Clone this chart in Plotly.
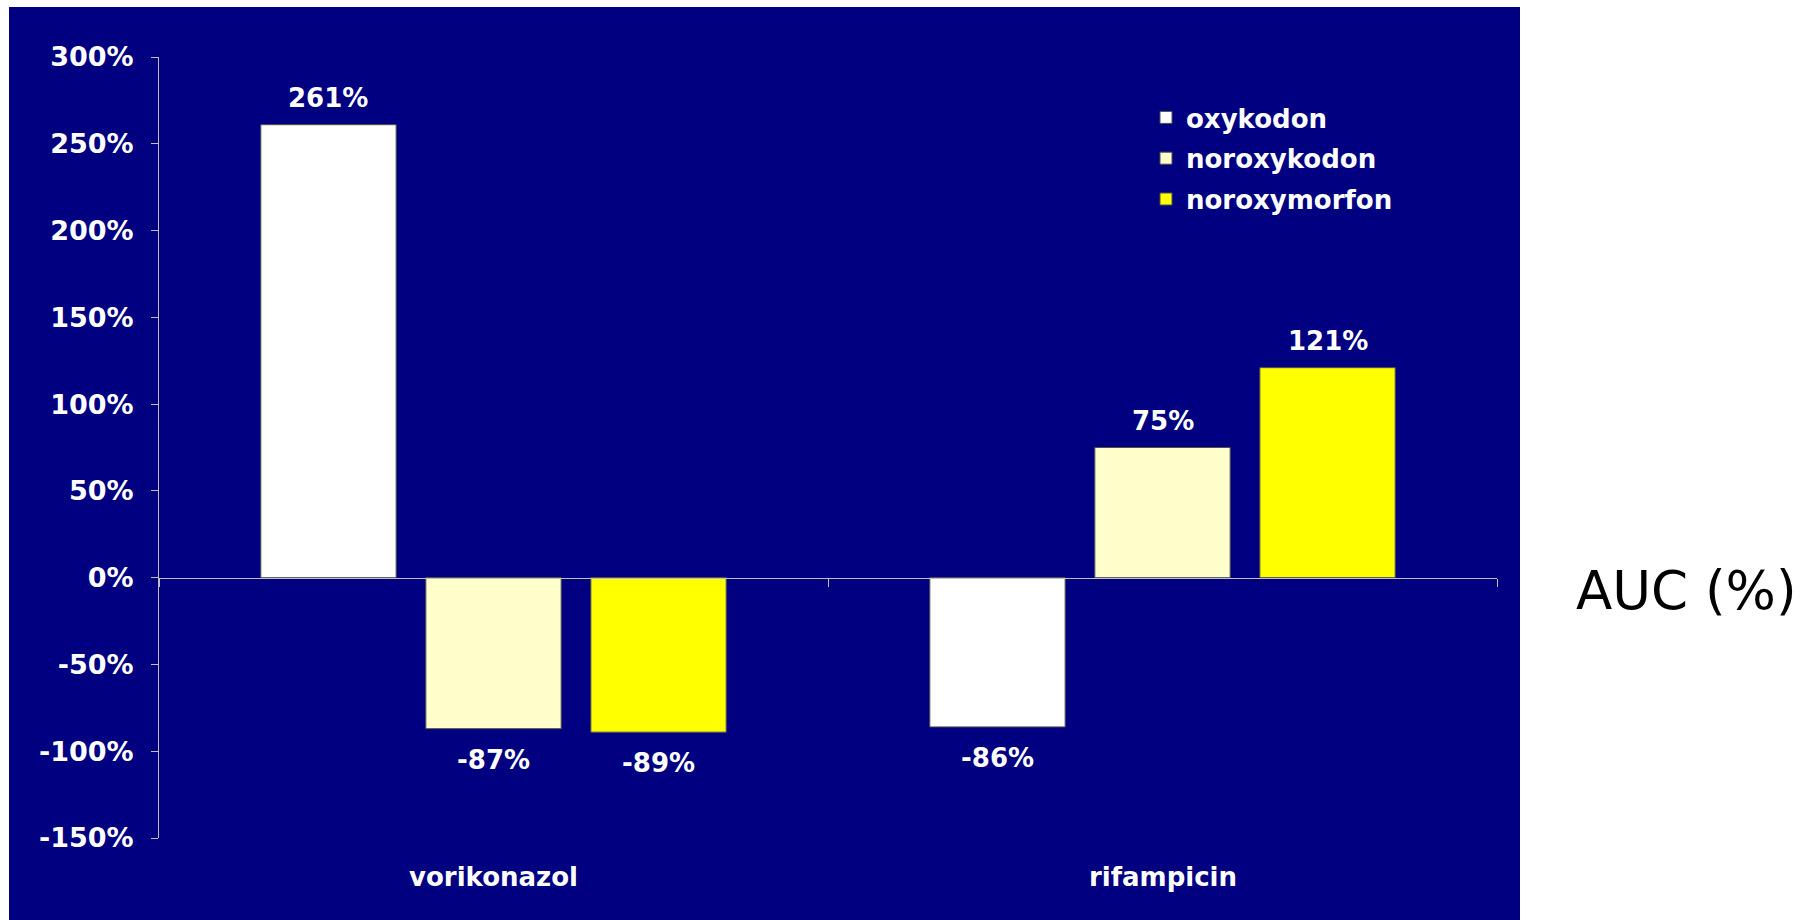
import plotly.graph_objects as go

# Data
categories = ["vorikonazol", "rifampicin"]
series_names = ["oxykodon", "noroxykodon", "noroxymorfon"]
oxykodon = [261, -86]
noroxykodon = [-87, 75]
noroxymorfon = [-89, 121]
series_values = [oxykodon, noroxykodon, noroxymorfon]
series_colors = ["#FFFFFF", "#FFFFCC", "#FFFF00"]

y_tickvals = [300, 250, 200, 150, 100, 50, 0, -50, -100, -150]
y_ticktext = ["300%", "250%", "200%", "150%", "100%", "50%", "0%", "-50%", "-100%", "-150%"]

# Layout geometry
W, H = 1816, 920
ML, MR, MT, MB = 159, 319, 57, 82
BARGAP = 0.26
BARGROUPGAP = 0.18
Y_RANGE = [-150, 300]

NAVY = "#000080"
AXIS_GREY = "#C0C0C0"
FONT = "DejaVu Sans"

fig = go.Figure()
for name, vals, col in zip(series_names, series_values, series_colors):
    fig.add_trace(go.Bar(
        x=categories, y=vals, name=name, legendgroup=name,
        marker=dict(color=col, line=dict(color="#505050", width=1)),
    ))

# value labels above / below each bar
plot_w = W - ML - MR
slot_w = plot_w / len(categories) * (1 - BARGAP) / len(series_names)
annotations = []
for i, vals in enumerate(series_values):
    offset = (i - (len(series_names) - 1) / 2) * slot_w
    for cat, v in zip(categories, vals):
        annotations.append(dict(
            x=cat, y=v, xref="x", yref="y", text=f"{v}%", showarrow=False,
            xshift=offset, yshift=10 if v >= 0 else -14,
            yanchor="bottom" if v >= 0 else "top",
            font=dict(family=FONT, size=26, color="white", weight="bold"),
        ))

# category labels along the bottom
for cat in categories:
    annotations.append(dict(
        x=cat, y=-0.0495, xref="x", yref="paper", text=cat, showarrow=False,
        yanchor="middle",
        font=dict(family=FONT, size=26, color="white", weight="bold"),
    ))

# axis caption at the right
annotations.append(dict(
    x=(1686 - ML) / plot_w, y=(H - MB - 590) / (H - MT - MB), xref="paper", yref="paper",
    text="AUC (%)", showarrow=False, xanchor="center", yanchor="middle",
    font=dict(family=FONT, size=53, color="black"),
))

plot_h = H - MT - MB
fig.update_layout(
    width=W, height=H, autosize=False,
    margin=dict(l=ML, r=MR, t=MT, b=MB, pad=0),
    paper_bgcolor="white", plot_bgcolor="rgba(0,0,0,0)",
    barmode="group", bargap=BARGAP, bargroupgap=BARGROUPGAP,
    font=dict(family=FONT, color="white"),
    shapes=[dict(
        type="rect", xref="paper", yref="paper", layer="below",
        x0=(9 - ML) / plot_w, x1=(1520 - ML) / plot_w,
        y0=-0.2, y1=(H - MB - 7) / plot_h,
        fillcolor=NAVY, line=dict(width=0),
    )],
    annotations=annotations,
    xaxis=dict(
        type="category", anchor="free",
        position=(0 - Y_RANGE[0]) / (Y_RANGE[1] - Y_RANGE[0]),
        showline=True, linecolor=AXIS_GREY, linewidth=1,
        ticks="outside", tickson="boundaries", ticklen=8, tickcolor=AXIS_GREY,
        showticklabels=False, showgrid=False, zeroline=False,
    ),
    yaxis=dict(
        range=Y_RANGE, tickvals=y_tickvals, ticktext=y_ticktext,
        showline=True, linecolor=AXIS_GREY, linewidth=1,
        ticks="outside", ticklen=7, tickcolor=AXIS_GREY,
        ticklabelstandoff=12,
        tickfont=dict(family=FONT, size=27, color="white", weight="bold"),
        showgrid=False, zeroline=False,
    ),
    legend=dict(
        x=(1146 - ML) / plot_w, y=(H - MB - 94) / plot_h,
        xanchor="left", yanchor="top",
        bgcolor="rgba(0,0,0,0)", borderwidth=0,
        traceorder="grouped", tracegroupgap=4,
        font=dict(family=FONT, size=26, color="white", weight="bold"),
    ),
)

fig.write_html("out.html")
